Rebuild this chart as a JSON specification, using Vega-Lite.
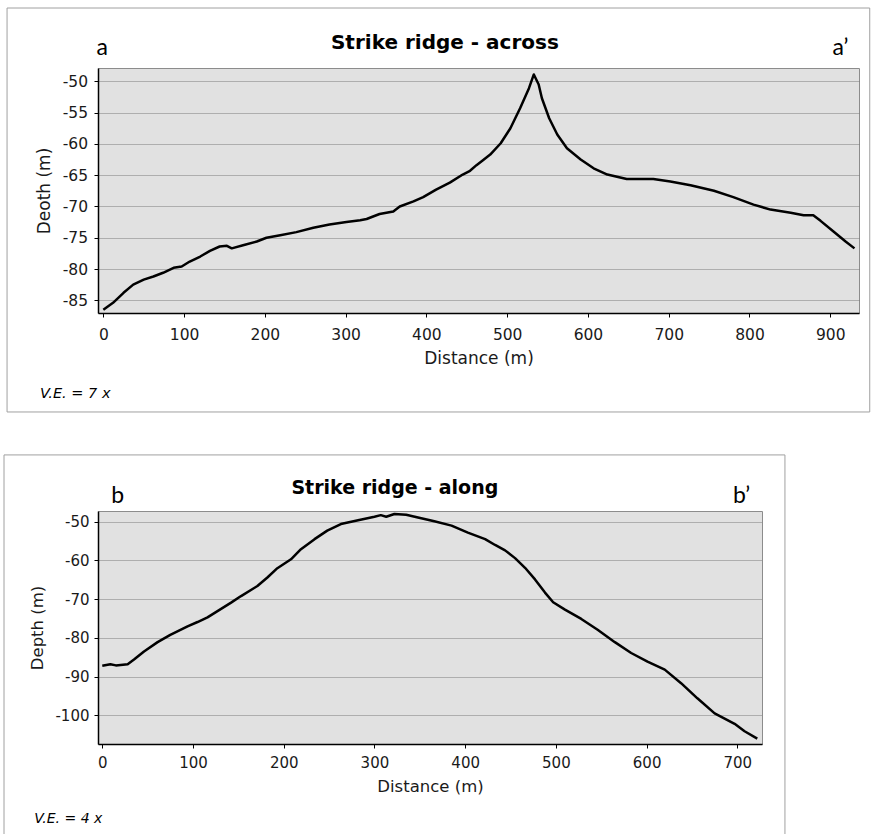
{
  "$schema": "https://vega.github.io/schema/vega-lite/v6.json",
  "autosize": {"type": "pad"},
  "padding": {"left": 3, "top": 7, "right": 0, "bottom": 0},
  "background": "white",
  "datasets": {
    "across": [
      {"d": 0, "z": -86.5}, {"d": 12, "z": -85.4}, {"d": 25, "z": -83.8}, {"d": 37, "z": -82.5},
      {"d": 50, "z": -81.7}, {"d": 62, "z": -81.2}, {"d": 74, "z": -80.6}, {"d": 87, "z": -79.8},
      {"d": 97, "z": -79.6}, {"d": 107, "z": -78.8}, {"d": 120, "z": -78.0}, {"d": 132, "z": -77.1},
      {"d": 144, "z": -76.4}, {"d": 153, "z": -76.3}, {"d": 159, "z": -76.7}, {"d": 173, "z": -76.2},
      {"d": 190, "z": -75.6}, {"d": 202, "z": -75.0}, {"d": 219, "z": -74.6}, {"d": 239, "z": -74.1},
      {"d": 260, "z": -73.4}, {"d": 280, "z": -72.9}, {"d": 301, "z": -72.5}, {"d": 318, "z": -72.2},
      {"d": 326, "z": -72.0}, {"d": 342, "z": -71.2}, {"d": 359, "z": -70.8}, {"d": 367, "z": -70.0},
      {"d": 384, "z": -69.2}, {"d": 396, "z": -68.5}, {"d": 412, "z": -67.3}, {"d": 429, "z": -66.2},
      {"d": 445, "z": -64.9}, {"d": 454, "z": -64.3}, {"d": 462, "z": -63.4}, {"d": 470, "z": -62.6},
      {"d": 479, "z": -61.7}, {"d": 492, "z": -59.9}, {"d": 504, "z": -57.5}, {"d": 516, "z": -54.3},
      {"d": 527, "z": -51.1}, {"d": 533, "z": -48.9}, {"d": 539, "z": -50.5}, {"d": 543, "z": -52.7},
      {"d": 552, "z": -55.9}, {"d": 562, "z": -58.5}, {"d": 574, "z": -60.7}, {"d": 591, "z": -62.5},
      {"d": 607, "z": -63.9}, {"d": 624, "z": -64.9}, {"d": 648, "z": -65.6}, {"d": 681, "z": -65.6},
      {"d": 702, "z": -66.0}, {"d": 727, "z": -66.6}, {"d": 756, "z": -67.5}, {"d": 780, "z": -68.5},
      {"d": 805, "z": -69.7}, {"d": 826, "z": -70.5}, {"d": 851, "z": -71.0}, {"d": 867, "z": -71.4},
      {"d": 879, "z": -71.4}, {"d": 888, "z": -72.3}, {"d": 904, "z": -74.0}, {"d": 919, "z": -75.6},
      {"d": 930, "z": -76.7}
    ],
    "along": [
      {"d": 0, "z": -87.2}, {"d": 9, "z": -86.8}, {"d": 15, "z": -87.1}, {"d": 28, "z": -86.8},
      {"d": 35, "z": -85.6}, {"d": 46, "z": -83.5}, {"d": 61, "z": -81.1}, {"d": 75, "z": -79.2},
      {"d": 94, "z": -77.0}, {"d": 105, "z": -75.9}, {"d": 116, "z": -74.7}, {"d": 127, "z": -73.1},
      {"d": 142, "z": -70.9}, {"d": 153, "z": -69.2}, {"d": 171, "z": -66.6}, {"d": 182, "z": -64.4},
      {"d": 193, "z": -62.0}, {"d": 208, "z": -59.7}, {"d": 219, "z": -57.1}, {"d": 234, "z": -54.5},
      {"d": 248, "z": -52.3}, {"d": 263, "z": -50.6}, {"d": 282, "z": -49.6}, {"d": 300, "z": -48.7},
      {"d": 307, "z": -48.3}, {"d": 313, "z": -48.7}, {"d": 322, "z": -48.0}, {"d": 335, "z": -48.2},
      {"d": 348, "z": -48.9}, {"d": 366, "z": -49.9}, {"d": 385, "z": -51.0}, {"d": 403, "z": -52.8},
      {"d": 422, "z": -54.5}, {"d": 433, "z": -56.0}, {"d": 444, "z": -57.4}, {"d": 455, "z": -59.4},
      {"d": 466, "z": -61.9}, {"d": 477, "z": -64.9}, {"d": 488, "z": -68.3}, {"d": 497, "z": -70.8},
      {"d": 510, "z": -72.7}, {"d": 528, "z": -75.1}, {"d": 546, "z": -77.9}, {"d": 565, "z": -81.1},
      {"d": 583, "z": -83.9}, {"d": 601, "z": -86.1}, {"d": 620, "z": -88.2}, {"d": 638, "z": -91.7},
      {"d": 656, "z": -95.6}, {"d": 675, "z": -99.5}, {"d": 697, "z": -102.2}, {"d": 708, "z": -104.1},
      {"d": 722, "z": -106.0}
    ]
  },
  "config": {
    "font": "DejaVu Sans",
    "view": {"fill": "#e1e1e1", "stroke": "#8c8c8c", "strokeWidth": 1},
    "axis": {
      "domainColor": "#000000", "domainWidth": 1.5, "tickColor": "#000000", "tickSize": 4, "tickWidth": 1,
      "labelFont": "DejaVu Sans", "labelColor": "#1a1a1a", "titleFont": "DejaVu Sans",
      "titleFontWeight": "normal", "titleColor": "#1a1a1a", "labelOverlap": false,
      "labelExpr": "replace(datum.label, '−', '-')",
      "gridColor": "#7a7a7a", "gridDash": [1, 1], "gridWidth": 1
    },
    "axisX": {"grid": false},
    "axisY": {"grid": true}
  },
  "spacing": 198,
  "bounds": "flush",
  "vconcat": [
    {
      "width": 761,
      "height": 245,
      "layer": [
        {
          "data": {"values": [{}]},
          "mark": {"type": "rect", "filled": false, "stroke": "#a0a0a0", "strokeWidth": 1},
          "encoding": {
            "x": {"datum": -119.2, "type": "quantitative", "title": "Distance (m)", "scale": {"domain": [-6.6, 935.6], "nice": false, "zero": false},
                  "axis": {"values": [0, 100, 200, 300, 400, 500, 600, 700, 800, 900], "labelFontSize": 15.5, "titleFontSize": 17, "labelPadding": 10, "titlePadding": 8}},
            "x2": {"datum": 948.9},
            "y": {"datum": -38.28, "type": "quantitative", "title": "Deoth (m)", "scale": {"domain": [-87.03, -47.87], "nice": false, "zero": false},
                  "axis": {"values": [-50, -55, -60, -65, -70, -75, -80, -85], "labelFontSize": 15.5, "titleFontSize": 17, "labelPadding": 6.5, "titlePadding": 9}},
            "y2": {"datum": -102.85}
          }
        },
        {
          "data": {"name": "across"},
          "mark": {"type": "line", "color": "#000000", "strokeWidth": 2.5, "strokeJoin": "round"},
          "encoding": {
            "x": {"field": "d", "type": "quantitative", "title": "Distance (m)", "scale": {"domain": [-6.6, 935.6], "nice": false, "zero": false},
                  "axis": {"values": [0, 100, 200, 300, 400, 500, 600, 700, 800, 900], "labelFontSize": 15.5, "titleFontSize": 17, "labelPadding": 10, "titlePadding": 8}},
            "y": {"field": "z", "type": "quantitative", "title": "Deoth (m)", "scale": {"domain": [-87.03, -47.87], "nice": false, "zero": false},
                  "axis": {"values": [-50, -55, -60, -65, -70, -75, -80, -85], "labelFontSize": 15.5, "titleFontSize": 17, "labelPadding": 6.5, "titlePadding": 9}}
          }
        },
        {
          "data": {"values": [{}]},
          "mark": {"type": "text", "text": "Strike ridge - across", "font": "DejaVu Sans", "fontWeight": "bold", "fontSize": 20, "align": "center", "baseline": "alphabetic", "color": "#000000"},
          "encoding": {
            "x": {"datum": 422.9, "type": "quantitative", "title": "Distance (m)", "scale": {"domain": [-6.6, 935.6], "nice": false, "zero": false},
                  "axis": {"values": [0, 100, 200, 300, 400, 500, 600, 700, 800, 900], "labelFontSize": 15.5, "titleFontSize": 17, "labelPadding": 10, "titlePadding": 8}},
            "y": {"datum": -44.83, "type": "quantitative", "title": "Deoth (m)", "scale": {"domain": [-87.03, -47.87], "nice": false, "zero": false},
                  "axis": {"values": [-50, -55, -60, -65, -70, -75, -80, -85], "labelFontSize": 15.5, "titleFontSize": 17, "labelPadding": 6.5, "titlePadding": 9}}
          }
        },
        {
          "data": {"values": [{}]},
          "mark": {"type": "text", "text": "a", "font": "Lato", "fontSize": 23, "align": "left", "baseline": "alphabetic", "color": "#000000"},
          "encoding": {
            "x": {"datum": -8.4, "type": "quantitative", "title": "Distance (m)", "scale": {"domain": [-6.6, 935.6], "nice": false, "zero": false},
                  "axis": {"values": [0, 100, 200, 300, 400, 500, 600, 700, 800, 900], "labelFontSize": 15.5, "titleFontSize": 17, "labelPadding": 10, "titlePadding": 8}},
            "y": {"datum": -45.79, "type": "quantitative", "title": "Deoth (m)", "scale": {"domain": [-87.03, -47.87], "nice": false, "zero": false},
                  "axis": {"values": [-50, -55, -60, -65, -70, -75, -80, -85], "labelFontSize": 15.5, "titleFontSize": 17, "labelPadding": 6.5, "titlePadding": 9}}
          }
        },
        {
          "data": {"values": [{}]},
          "mark": {"type": "text", "text": "a’", "font": "Lato", "fontSize": 23, "align": "left", "baseline": "alphabetic", "color": "#000000"},
          "encoding": {
            "x": {"datum": 902.8, "type": "quantitative", "title": "Distance (m)", "scale": {"domain": [-6.6, 935.6], "nice": false, "zero": false},
                  "axis": {"values": [0, 100, 200, 300, 400, 500, 600, 700, 800, 900], "labelFontSize": 15.5, "titleFontSize": 17, "labelPadding": 10, "titlePadding": 8}},
            "y": {"datum": -45.79, "type": "quantitative", "title": "Deoth (m)", "scale": {"domain": [-87.03, -47.87], "nice": false, "zero": false},
                  "axis": {"values": [-50, -55, -60, -65, -70, -75, -80, -85], "labelFontSize": 15.5, "titleFontSize": 17, "labelPadding": 6.5, "titlePadding": 9}}
          }
        },
        {
          "data": {"values": [{}]},
          "mark": {"type": "text", "text": "V.E. = 7 x", "font": "DejaVu Sans", "fontStyle": "italic", "fontSize": 14.5, "align": "left", "baseline": "alphabetic", "color": "#000000"},
          "encoding": {
            "x": {"datum": -78.3, "type": "quantitative", "title": "Distance (m)", "scale": {"domain": [-6.6, 935.6], "nice": false, "zero": false},
                  "axis": {"values": [0, 100, 200, 300, 400, 500, 600, 700, 800, 900], "labelFontSize": 15.5, "titleFontSize": 17, "labelPadding": 10, "titlePadding": 8}},
            "y": {"datum": -100.6, "type": "quantitative", "title": "Deoth (m)", "scale": {"domain": [-87.03, -47.87], "nice": false, "zero": false},
                  "axis": {"values": [-50, -55, -60, -65, -70, -75, -80, -85], "labelFontSize": 15.5, "titleFontSize": 17, "labelPadding": 6.5, "titlePadding": 9}}
          }
        }
      ]
    },
    {
      "width": 664,
      "height": 233,
      "layer": [
        {
          "data": {"values": [{}]},
          "mark": {"type": "rule", "stroke": "#a0a0a0", "strokeWidth": 1},
          "encoding": {
            "x": {"datum": -108.3, "type": "quantitative", "title": "Distance (m)", "scale": {"domain": [-4.7, 727.2], "nice": false, "zero": false},
                  "axis": {"values": [0, 100, 200, 300, 400, 500, 600, 700], "labelFontSize": 15, "titleFontSize": 16.5, "labelPadding": 7, "titlePadding": 8}},
            "y": {"datum": -32.75, "type": "quantitative", "title": "Depth (m)", "scale": {"domain": [-107.4, -47.23], "nice": false, "zero": false},
                  "axis": {"values": [-50, -60, -70, -80, -90, -100], "labelFontSize": 15, "titleFontSize": 16.5, "labelPadding": 5, "titlePadding": 9}},
            "y2": {"datum": -130.8}
          }
        },
        {
          "data": {"values": [{}]},
          "mark": {"type": "rule", "stroke": "#a0a0a0", "strokeWidth": 1},
          "encoding": {
            "x": {"datum": 752.5, "type": "quantitative", "title": "Distance (m)", "scale": {"domain": [-4.7, 727.2], "nice": false, "zero": false},
                  "axis": {"values": [0, 100, 200, 300, 400, 500, 600, 700], "labelFontSize": 15, "titleFontSize": 16.5, "labelPadding": 7, "titlePadding": 8}},
            "y": {"datum": -32.75, "type": "quantitative", "title": "Depth (m)", "scale": {"domain": [-107.4, -47.23], "nice": false, "zero": false},
                  "axis": {"values": [-50, -60, -70, -80, -90, -100], "labelFontSize": 15, "titleFontSize": 16.5, "labelPadding": 5, "titlePadding": 9}},
            "y2": {"datum": -130.8}
          }
        },
        {
          "data": {"values": [{}]},
          "mark": {"type": "rule", "stroke": "#a0a0a0", "strokeWidth": 1},
          "encoding": {
            "x": {"datum": -108.3, "type": "quantitative", "title": "Distance (m)", "scale": {"domain": [-4.7, 727.2], "nice": false, "zero": false},
                  "axis": {"values": [0, 100, 200, 300, 400, 500, 600, 700], "labelFontSize": 15, "titleFontSize": 16.5, "labelPadding": 7, "titlePadding": 8}},
            "x2": {"datum": 752.5},
            "y": {"datum": -32.75, "type": "quantitative", "title": "Depth (m)", "scale": {"domain": [-107.4, -47.23], "nice": false, "zero": false},
                  "axis": {"values": [-50, -60, -70, -80, -90, -100], "labelFontSize": 15, "titleFontSize": 16.5, "labelPadding": 5, "titlePadding": 9}}
          }
        },
        {
          "data": {"name": "along"},
          "mark": {"type": "line", "color": "#000000", "strokeWidth": 2.5, "strokeJoin": "round"},
          "encoding": {
            "x": {"field": "d", "type": "quantitative", "title": "Distance (m)", "scale": {"domain": [-4.7, 727.2], "nice": false, "zero": false},
                  "axis": {"values": [0, 100, 200, 300, 400, 500, 600, 700], "labelFontSize": 15, "titleFontSize": 16.5, "labelPadding": 7, "titlePadding": 8}},
            "y": {"field": "z", "type": "quantitative", "title": "Depth (m)", "scale": {"domain": [-107.4, -47.23], "nice": false, "zero": false},
                  "axis": {"values": [-50, -60, -70, -80, -90, -100], "labelFontSize": 15, "titleFontSize": 16.5, "labelPadding": 5, "titlePadding": 9}}
          }
        },
        {
          "data": {"values": [{}]},
          "mark": {"type": "text", "text": "Strike ridge - along", "font": "DejaVu Sans", "fontWeight": "bold", "fontSize": 19, "align": "center", "baseline": "alphabetic", "color": "#000000"},
          "encoding": {
            "x": {"datum": 322.5, "type": "quantitative", "title": "Distance (m)", "scale": {"domain": [-4.7, 727.2], "nice": false, "zero": false},
                  "axis": {"values": [0, 100, 200, 300, 400, 500, 600, 700], "labelFontSize": 15, "titleFontSize": 16.5, "labelPadding": 7, "titlePadding": 8}},
            "y": {"datum": -42.83, "type": "quantitative", "title": "Depth (m)", "scale": {"domain": [-107.4, -47.23], "nice": false, "zero": false},
                  "axis": {"values": [-50, -60, -70, -80, -90, -100], "labelFontSize": 15, "titleFontSize": 16.5, "labelPadding": 5, "titlePadding": 9}}
          }
        },
        {
          "data": {"values": [{}]},
          "mark": {"type": "text", "text": "b", "font": "Lato", "fontSize": 23, "align": "left", "baseline": "alphabetic", "color": "#000000"},
          "encoding": {
            "x": {"datum": 9.9, "type": "quantitative", "title": "Distance (m)", "scale": {"domain": [-4.7, 727.2], "nice": false, "zero": false},
                  "axis": {"values": [0, 100, 200, 300, 400, 500, 600, 700], "labelFontSize": 15, "titleFontSize": 16.5, "labelPadding": 7, "titlePadding": 8}},
            "y": {"datum": -45.16, "type": "quantitative", "title": "Depth (m)", "scale": {"domain": [-107.4, -47.23], "nice": false, "zero": false},
                  "axis": {"values": [-50, -60, -70, -80, -90, -100], "labelFontSize": 15, "titleFontSize": 16.5, "labelPadding": 5, "titlePadding": 9}}
          }
        },
        {
          "data": {"values": [{}]},
          "mark": {"type": "text", "text": "b’", "font": "Lato", "fontSize": 23, "align": "left", "baseline": "alphabetic", "color": "#000000"},
          "encoding": {
            "x": {"datum": 695.2, "type": "quantitative", "title": "Distance (m)", "scale": {"domain": [-4.7, 727.2], "nice": false, "zero": false},
                  "axis": {"values": [0, 100, 200, 300, 400, 500, 600, 700], "labelFontSize": 15, "titleFontSize": 16.5, "labelPadding": 7, "titlePadding": 8}},
            "y": {"datum": -45.16, "type": "quantitative", "title": "Depth (m)", "scale": {"domain": [-107.4, -47.23], "nice": false, "zero": false},
                  "axis": {"values": [-50, -60, -70, -80, -90, -100], "labelFontSize": 15, "titleFontSize": 16.5, "labelPadding": 5, "titlePadding": 9}}
          }
        },
        {
          "data": {"values": [{}]},
          "mark": {"type": "text", "text": "V.E. = 4 x", "font": "DejaVu Sans", "fontStyle": "italic", "fontSize": 14, "align": "left", "baseline": "alphabetic", "color": "#000000"},
          "encoding": {
            "x": {"datum": -74.9, "type": "quantitative", "title": "Distance (m)", "scale": {"domain": [-4.7, 727.2], "nice": false, "zero": false},
                  "axis": {"values": [0, 100, 200, 300, 400, 500, 600, 700], "labelFontSize": 15, "titleFontSize": 16.5, "labelPadding": 7, "titlePadding": 8}},
            "y": {"datum": -127.9, "type": "quantitative", "title": "Depth (m)", "scale": {"domain": [-107.4, -47.23], "nice": false, "zero": false},
                  "axis": {"values": [-50, -60, -70, -80, -90, -100], "labelFontSize": 15, "titleFontSize": 16.5, "labelPadding": 5, "titlePadding": 9}}
          }
        }
      ]
    }
  ]
}
